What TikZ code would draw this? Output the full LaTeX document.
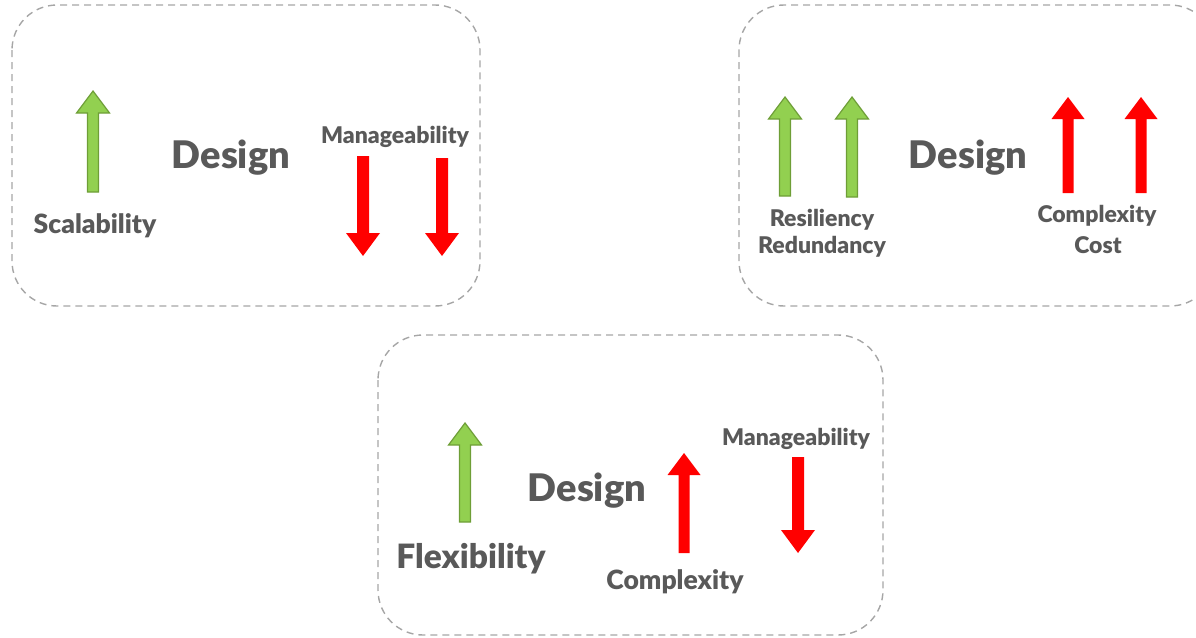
\documentclass[tikz,border=0pt]{standalone}
\usepackage{fontspec}
\setmainfont{Lato}[BoldFont={Lato Black}]
\definecolor{txt}{HTML}{595959}
\definecolor{gfill}{HTML}{92D050}
\definecolor{gline}{HTML}{6E9E37}
\definecolor{boxline}{HTML}{A6A6A6}
\tikzset{
  dbox/.style={draw=boxline, line width=1.4pt, dash pattern=on 7pt off 5pt, rounded corners=45pt},
  lbl/.style={text=txt, font=\bfseries, inner sep=0pt, anchor=base},
  garr/.style={fill=gfill, draw=gline, line width=1.2pt, line join=miter},
  rarr/.style={fill=red, draw=none}
}
\newcommand\arrup[4]{% style, x, tip y, bottom y
  \path[#1] (#2-5.5,#4) -- (#2-5.5,#3+22) -- (#2-16.5,#3+22) -- (#2,#3) -- (#2+16.5,#3+22) -- (#2+5.5,#3+22) -- (#2+5.5,#4) -- cycle;}
\newcommand\arrdown[4]{% style, x, top y, tip y
  \path[#1] (#2-6,#3) -- (#2-6,#4-23) -- (#2-17,#4-23) -- (#2,#4) -- (#2+17,#4-23) -- (#2+6,#4-23) -- (#2+6,#3) -- cycle;}
\newcommand\fs[1]{\bfseries\fontsize{#1}{#1}\selectfont}
\begin{document}
\begin{tikzpicture}[x=1pt,y=-1pt]
\useasboundingbox (0,0) rectangle (1196,637);
% boxes
\draw[dbox] (12,5) rectangle (480,306);
\draw[dbox] (739,5) rectangle (1215,306);
\draw[dbox] (378,335) rectangle (883,635);
% box 1
\arrup{garr}{93}{91}{192}
\arrdown{rarr}{363}{156}{256}
\arrdown{rarr}{442}{158}{256}
\node[lbl, font=\fs{38}] (d1) at (231,168) {Design};
\node[lbl, font=\fs{23}] (m1) at (395,143) {Manageability};
\node[lbl, font=\fs{26.5}] (s1) at (95,233) {Scalability};
% box 2
\arrup{garr}{785}{97}{196}
\arrup{garr}{852}{97}{197}
\arrup{rarr}{1068}{97}{193}
\arrup{rarr}{1141}{97}{193}
\node[lbl, font=\fs{38}] (d2) at (968,168) {Design};
\node[lbl, font=\fs{23}] (r2) at (822,226) {Resiliency};
\node[lbl, font=\fs{23}] (r3) at (822,253) {Redundancy};
\node[lbl, font=\fs{23}] (c2) at (1097,222) {Complexity};
\node[lbl, font=\fs{23}] (c3) at (1098,253) {Cost};
% box 3
\arrup{garr}{465}{423}{522}
\arrup{rarr}{684}{453}{553}
\arrdown{rarr}{798}{457}{553}
\node[lbl, font=\fs{38}] (d3) at (587,501) {Design};
\node[lbl, font=\fs{23}] (m3) at (796,445) {Manageability};
\node[lbl, font=\fs{33.5}] (f3) at (471,568) {Flexibility};
\node[lbl, font=\fs{26.5}] (c4) at (675,589) {Complexity};
\end{tikzpicture}
\end{document}
